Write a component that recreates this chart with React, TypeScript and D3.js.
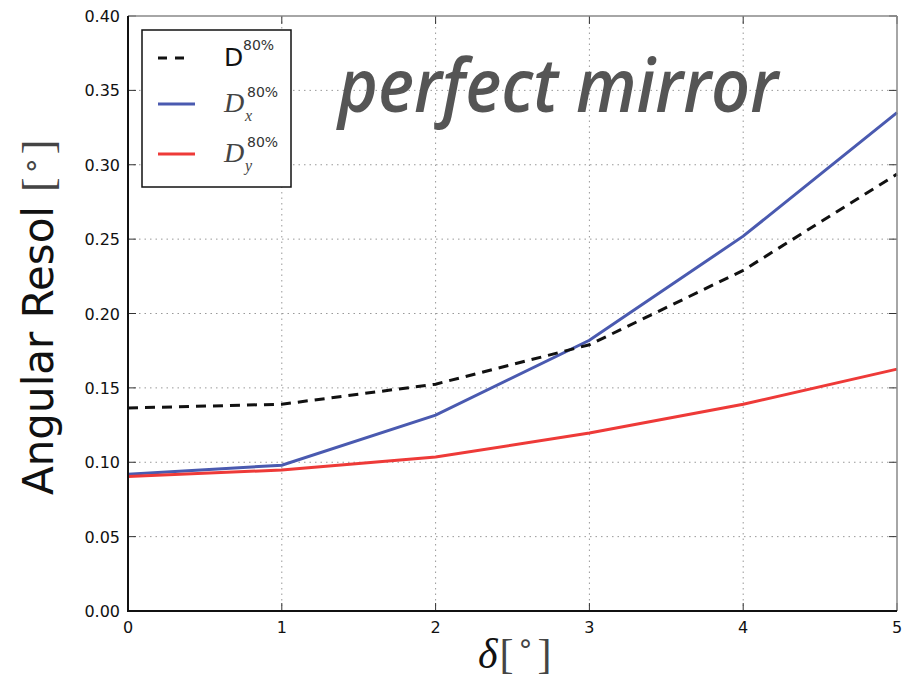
import React from "react";
import * as d3 from "d3";

const xTicks = [0, 1, 2, 3, 4, 5];
const yTicks = [0, 0.05, 0.1, 0.15, 0.2, 0.25, 0.3, 0.35, 0.4];
const deltas = [0, 1, 2, 3, 4, 5];
const dTotal = [0.1365, 0.139, 0.1525, 0.179, 0.229, 0.2937];
const dX = [0.092, 0.098, 0.1317, 0.182, 0.252, 0.335];
const dY = [0.0905, 0.0948, 0.1035, 0.1196, 0.139, 0.1626];

const W = 914, H = 682;
const L = 128, R = 897, T = 16, B = 611;

export default function App() {
  const x = d3.scaleLinear().domain([0, 5]).range([L, R]);
  const y = d3.scaleLinear().domain([0, 0.4]).range([B, T]);
  const line = d3.line<number>().x((_, i) => x(deltas[i])).y((v) => y(v));
  const tickFont = "DejaVu Sans, sans-serif";
  const serif = "Liberation Serif, serif";
  return (
    <svg width={W} height={H} style={{ position: "absolute", left: 0, top: 0 }}>
      <rect width={W} height={H} fill="#fff" />
      {/* grid */}
      {xTicks.slice(1, -1).map((t) => (
        <line key={"gx" + t} x1={x(t)} x2={x(t)} y1={T} y2={B} stroke="#999" strokeWidth={1} strokeDasharray="1.5,4" />
      ))}
      {yTicks.slice(1, -1).map((t) => (
        <line key={"gy" + t} x1={L} x2={R} y1={y(t)} y2={y(t)} stroke="#999" strokeWidth={1} strokeDasharray="1.5,4" />
      ))}
      {/* title */}
      <text x={338} y={112} fontFamily="Open Sans, sans-serif" fontStyle="italic" fontWeight={600} fontSize={74} fill="#555" textLength={440} lengthAdjust="spacingAndGlyphs">perfect mirror</text>
      {/* lines */}
      <path d={line(dX) || ""} fill="none" stroke="#4a5ab0" strokeWidth={3} />
      <path d={line(dY) || ""} fill="none" stroke="#ee3a38" strokeWidth={3} />
      <path d={line(dTotal) || ""} fill="none" stroke="#111" strokeWidth={3} strokeDasharray="10,7" />
      {/* ticks */}
      {xTicks.map((t) => (
        <g key={"tx" + t}>
          <line x1={x(t)} x2={x(t)} y1={B} y2={B - 8} stroke="#333" strokeWidth={1} />
          <line x1={x(t)} x2={x(t)} y1={T} y2={T + 8} stroke="#333" strokeWidth={1} />
          <text x={x(t)} y={B + 22} textAnchor="middle" fontFamily={tickFont} fontSize={16} fill="#111">{t}</text>
        </g>
      ))}
      {yTicks.map((t) => (
        <g key={"ty" + t}>
          <line x1={L} x2={L + 8} y1={y(t)} y2={y(t)} stroke="#333" strokeWidth={1} />
          <line x1={R} x2={R - 8} y1={y(t)} y2={y(t)} stroke="#333" strokeWidth={1} />
          <text x={L - 8} y={y(t) + 6} textAnchor="end" fontFamily={tickFont} fontSize={16} fill="#111">{t.toFixed(2)}</text>
        </g>
      ))}
      {/* frame */}
      <line x1={L} x2={R} y1={T} y2={T} stroke="#888" strokeWidth={1.5} />
      <line x1={R} x2={R} y1={T} y2={B} stroke="#888" strokeWidth={1.5} />
      <line x1={L} x2={L} y1={T} y2={B + 1} stroke="#111" strokeWidth={2} />
      <line x1={L - 1} x2={R} y1={B} y2={B} stroke="#111" strokeWidth={2} />
      {/* legend */}
      <rect x={142} y={30} width={149} height={157} fill="#fff" stroke="#111" strokeWidth={1.5} />
      <line x1={158} x2={192} y1={58} y2={58} stroke="#111" strokeWidth={3} strokeDasharray="9,8" />
      <line x1={158} x2={195} y1={104} y2={104} stroke="#4a5ab0" strokeWidth={3} />
      <line x1={158} x2={195} y1={154} y2={154} stroke="#ee3a38" strokeWidth={3} />
      <text x={224} y={66} fontFamily={tickFont} fontSize={25} fill="#111">D</text>
      <text x={243} y={50} fontFamily={tickFont} fontSize={14} fill="#333">80%</text>
      <text x={224} y={112} fontFamily={serif} fontStyle="italic" fontSize={28} fill="#444">D</text>
      <text x={245} y={121} fontFamily={serif} fontStyle="italic" fontSize={16} fill="#444">x</text>
      <text x={247} y={97} fontFamily={tickFont} fontSize={14} fill="#333">80%</text>
      <text x={224} y={162} fontFamily={serif} fontStyle="italic" fontSize={28} fill="#444">D</text>
      <text x={245} y={171} fontFamily={serif} fontStyle="italic" fontSize={16} fill="#444">y</text>
      <text x={247} y={147} fontFamily={tickFont} fontSize={14} fill="#333">80%</text>
      {/* y label */}
      <text transform="translate(53,495) rotate(-90)" textAnchor="start" fontFamily={tickFont} fontSize={42} fill="#111">
        Angular Resol<tspan dx={14} fontFamily={serif} fontSize={44} fill="#444">[</tspan><tspan dx={4} dy={-4} fontFamily={tickFont} fontSize={30} fill="#444">°</tspan><tspan dx={4} dy={4} fontFamily={serif} fontSize={44} fill="#444">]</tspan>
      </text>
      {/* x label */}
      <text x={478} y={668} fontFamily={serif} fontSize={42} fill="#111">
        <tspan fontStyle="italic">δ</tspan><tspan dx={2} fill="#444">[</tspan><tspan dx={5} dy={-8} fontFamily={tickFont} fontSize={28} fill="#444">°</tspan><tspan dx={5} dy={8} fill="#444">]</tspan>
      </text>
    </svg>
  );
}
